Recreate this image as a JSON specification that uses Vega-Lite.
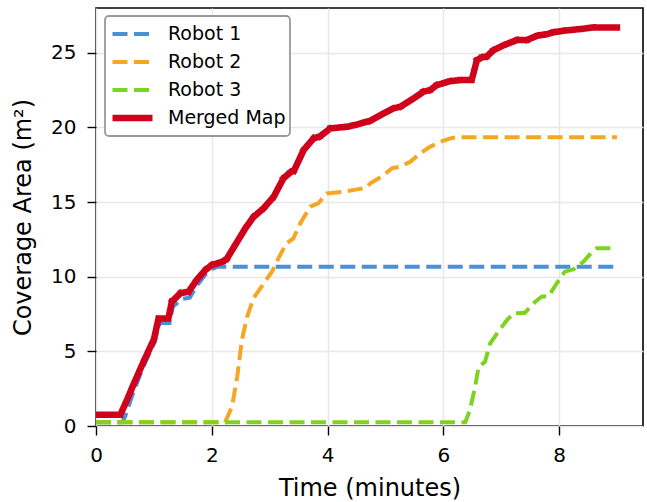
{
  "$schema": "https://vega.github.io/schema/vega-lite/v6.json",
  "width": 547,
  "height": 418,
  "autosize": {"type": "none"},
  "padding": {"left": 96, "top": 8, "right": 4, "bottom": 76},
  "background": "white",
  "config": {
    "font": "DejaVu Sans",
    "view": {"stroke": "#000000", "strokeWidth": 1.6},
    "axis": {
      "domain": false,
      "grid": true,
      "gridColor": "#e8e8e8",
      "gridWidth": 1.5,
      "tickColor": "#000000",
      "tickWidth": 1.4,
      "tickSize": 9,
      "labelFlush": false,
      "labelFont": "DejaVu Sans",
      "labelFontSize": 20,
      "labelColor": "#000000",
      "titleFont": "DejaVu Sans",
      "titleFontSize": 24,
      "titleFontWeight": "normal",
      "titleColor": "#000000"
    },
    "legend": {
      "labelFont": "DejaVu Sans",
      "labelFontSize": 19,
      "labelColor": "#000000",
      "strokeWidth": 1.8
    }
  },
  "data": {
    "values": [
      {"t": 0, "v": 0.25, "s": "Robot 1"},
      {"t": 0.45, "v": 0.25, "s": "Robot 1"},
      {"t": 0.5, "v": 0.6, "s": "Robot 1"},
      {"t": 0.65, "v": 2.3, "s": "Robot 1"},
      {"t": 0.82, "v": 4.0, "s": "Robot 1"},
      {"t": 1.0, "v": 5.5, "s": "Robot 1"},
      {"t": 1.1, "v": 6.9, "s": "Robot 1"},
      {"t": 1.27, "v": 6.9, "s": "Robot 1"},
      {"t": 1.33, "v": 8.0, "s": "Robot 1"},
      {"t": 1.48, "v": 8.5, "s": "Robot 1"},
      {"t": 1.62, "v": 8.6, "s": "Robot 1"},
      {"t": 1.76, "v": 9.5, "s": "Robot 1"},
      {"t": 1.9, "v": 10.2, "s": "Robot 1"},
      {"t": 2.0, "v": 10.5, "s": "Robot 1"},
      {"t": 2.1, "v": 10.67, "s": "Robot 1"},
      {"t": 9.0, "v": 10.67, "s": "Robot 1"},

      {"t": 0, "v": 0.25, "s": "Robot 2"},
      {"t": 2.23, "v": 0.25, "s": "Robot 2"},
      {"t": 2.35, "v": 1.3, "s": "Robot 2"},
      {"t": 2.44, "v": 3.3, "s": "Robot 2"},
      {"t": 2.52, "v": 5.76, "s": "Robot 2"},
      {"t": 2.61, "v": 7.3, "s": "Robot 2"},
      {"t": 2.72, "v": 8.55, "s": "Robot 2"},
      {"t": 2.9, "v": 9.56, "s": "Robot 2"},
      {"t": 3.04, "v": 10.34, "s": "Robot 2"},
      {"t": 3.18, "v": 11.45, "s": "Robot 2"},
      {"t": 3.29, "v": 12.24, "s": "Robot 2"},
      {"t": 3.41, "v": 12.57, "s": "Robot 2"},
      {"t": 3.53, "v": 13.58, "s": "Robot 2"},
      {"t": 3.7, "v": 14.69, "s": "Robot 2"},
      {"t": 3.84, "v": 14.92, "s": "Robot 2"},
      {"t": 3.99, "v": 15.58, "s": "Robot 2"},
      {"t": 4.28, "v": 15.69, "s": "Robot 2"},
      {"t": 4.51, "v": 15.85, "s": "Robot 2"},
      {"t": 4.66, "v": 15.95, "s": "Robot 2"},
      {"t": 4.74, "v": 16.26, "s": "Robot 2"},
      {"t": 4.97, "v": 16.8, "s": "Robot 2"},
      {"t": 5.11, "v": 17.26, "s": "Robot 2"},
      {"t": 5.26, "v": 17.37, "s": "Robot 2"},
      {"t": 5.43, "v": 17.7, "s": "Robot 2"},
      {"t": 5.6, "v": 18.26, "s": "Robot 2"},
      {"t": 5.77, "v": 18.7, "s": "Robot 2"},
      {"t": 5.95, "v": 19.04, "s": "Robot 2"},
      {"t": 6.12, "v": 19.27, "s": "Robot 2"},
      {"t": 6.23, "v": 19.35, "s": "Robot 2"},
      {"t": 9.0, "v": 19.35, "s": "Robot 2"},

      {"t": 0, "v": 0.25, "s": "Robot 3"},
      {"t": 6.38, "v": 0.25, "s": "Robot 3"},
      {"t": 6.46, "v": 1.07, "s": "Robot 3"},
      {"t": 6.55, "v": 2.63, "s": "Robot 3"},
      {"t": 6.61, "v": 3.97, "s": "Robot 3"},
      {"t": 6.72, "v": 4.3, "s": "Robot 3"},
      {"t": 6.81, "v": 5.54, "s": "Robot 3"},
      {"t": 6.95, "v": 6.32, "s": "Robot 3"},
      {"t": 7.1, "v": 7.1, "s": "Robot 3"},
      {"t": 7.21, "v": 7.55, "s": "Robot 3"},
      {"t": 7.41, "v": 7.59, "s": "Robot 3"},
      {"t": 7.59, "v": 8.33, "s": "Robot 3"},
      {"t": 7.7, "v": 8.66, "s": "Robot 3"},
      {"t": 7.82, "v": 8.7, "s": "Robot 3"},
      {"t": 7.96, "v": 9.56, "s": "Robot 3"},
      {"t": 8.1, "v": 10.34, "s": "Robot 3"},
      {"t": 8.25, "v": 10.5, "s": "Robot 3"},
      {"t": 8.42, "v": 11.0, "s": "Robot 3"},
      {"t": 8.57, "v": 11.67, "s": "Robot 3"},
      {"t": 8.65, "v": 11.9, "s": "Robot 3"},
      {"t": 9.0, "v": 11.9, "s": "Robot 3"},

      {"t": 0, "v": 0.75, "s": "Merged Map"},
      {"t": 0.42, "v": 0.75, "s": "Merged Map"},
      {"t": 0.53, "v": 1.7, "s": "Merged Map"},
      {"t": 0.65, "v": 2.8, "s": "Merged Map"},
      {"t": 0.82, "v": 4.3, "s": "Merged Map"},
      {"t": 1.0, "v": 5.8, "s": "Merged Map"},
      {"t": 1.08, "v": 7.2, "s": "Merged Map"},
      {"t": 1.25, "v": 7.2, "s": "Merged Map"},
      {"t": 1.31, "v": 8.33, "s": "Merged Map"},
      {"t": 1.46, "v": 8.9, "s": "Merged Map"},
      {"t": 1.6, "v": 9.0, "s": "Merged Map"},
      {"t": 1.74, "v": 9.78, "s": "Merged Map"},
      {"t": 1.89, "v": 10.45, "s": "Merged Map"},
      {"t": 2.0, "v": 10.78, "s": "Merged Map"},
      {"t": 2.18, "v": 11.0, "s": "Merged Map"},
      {"t": 2.26, "v": 11.2, "s": "Merged Map"},
      {"t": 2.44, "v": 12.35, "s": "Merged Map"},
      {"t": 2.58, "v": 13.24, "s": "Merged Map"},
      {"t": 2.72, "v": 14.0, "s": "Merged Map"},
      {"t": 2.9, "v": 14.6, "s": "Merged Map"},
      {"t": 3.07, "v": 15.36, "s": "Merged Map"},
      {"t": 3.24, "v": 16.6, "s": "Merged Map"},
      {"t": 3.36, "v": 17.0, "s": "Merged Map"},
      {"t": 3.42, "v": 17.1, "s": "Merged Map"},
      {"t": 3.59, "v": 18.5, "s": "Merged Map"},
      {"t": 3.76, "v": 19.27, "s": "Merged Map"},
      {"t": 3.87, "v": 19.4, "s": "Merged Map"},
      {"t": 4.05, "v": 19.94, "s": "Merged Map"},
      {"t": 4.34, "v": 20.05, "s": "Merged Map"},
      {"t": 4.51, "v": 20.2, "s": "Merged Map"},
      {"t": 4.74, "v": 20.45, "s": "Merged Map"},
      {"t": 4.97, "v": 20.94, "s": "Merged Map"},
      {"t": 5.14, "v": 21.28, "s": "Merged Map"},
      {"t": 5.26, "v": 21.39, "s": "Merged Map"},
      {"t": 5.49, "v": 21.95, "s": "Merged Map"},
      {"t": 5.66, "v": 22.4, "s": "Merged Map"},
      {"t": 5.77, "v": 22.5, "s": "Merged Map"},
      {"t": 5.89, "v": 22.84, "s": "Merged Map"},
      {"t": 6.12, "v": 23.1, "s": "Merged Map"},
      {"t": 6.29, "v": 23.17, "s": "Merged Map"},
      {"t": 6.49, "v": 23.17, "s": "Merged Map"},
      {"t": 6.58, "v": 24.5, "s": "Merged Map"},
      {"t": 6.67, "v": 24.7, "s": "Merged Map"},
      {"t": 6.75, "v": 24.75, "s": "Merged Map"},
      {"t": 6.87, "v": 25.18, "s": "Merged Map"},
      {"t": 7.04, "v": 25.5, "s": "Merged Map"},
      {"t": 7.27, "v": 25.85, "s": "Merged Map"},
      {"t": 7.44, "v": 25.85, "s": "Merged Map"},
      {"t": 7.62, "v": 26.14, "s": "Merged Map"},
      {"t": 7.79, "v": 26.25, "s": "Merged Map"},
      {"t": 7.9, "v": 26.37, "s": "Merged Map"},
      {"t": 8.08, "v": 26.48, "s": "Merged Map"},
      {"t": 8.36, "v": 26.59, "s": "Merged Map"},
      {"t": 8.6, "v": 26.7, "s": "Merged Map"},
      {"t": 9.0, "v": 26.7, "s": "Merged Map"}
    ]
  },
  "encoding": {
    "x": {
      "field": "t", "type": "quantitative",
      "scale": {"domain": [0, 9.45], "nice": false, "zero": false},
      "axis": {"values": [0, 2, 4, 6, 8], "title": "Time (minutes)", "labelPadding": 10, "titlePadding": 11, "format": "d"}
    },
    "y": {
      "field": "v", "type": "quantitative",
      "scale": {"domain": [0, 28.0], "nice": false, "zero": false},
      "axis": {"values": [0, 5, 10, 15, 20, 25], "title": "Coverage Area (m²)", "labelPadding": 11, "titlePadding": 15, "format": "d"}
    },
    "color": {
      "field": "s", "type": "nominal",
      "scale": {"domain": ["Robot 1", "Robot 2", "Robot 3", "Merged Map"], "range": ["#4a90d9", "#f5a623", "#7ed321", "#d0021b"]},
      "legend": {
        "title": null, "orient": "none", "legendX": 9, "legendY": 8,
        "symbolType": "stroke", "symbolSize": 1600, "clipHeight": 28,
        "strokeColor": "#999999", "fillColor": "#ffffff", "cornerRadius": 4,
        "padding": 4, "rowPadding": 0, "labelOffset": 12
      }
    },
    "strokeDash": {
      "field": "s", "type": "nominal",
      "scale": {"domain": ["Robot 1", "Robot 2", "Robot 3", "Merged Map"], "range": [[15, 6.5], [15, 6.5], [15, 6.5], [1, 0]]},
      "legend": {"title": null}
    },
    "strokeWidth": {
      "field": "s", "type": "ordinal",
      "scale": {"type": "ordinal", "domain": ["Robot 1", "Robot 2", "Robot 3", "Merged Map"], "range": [4, 4, 4, 6.5]},
      "legend": {"title": null}
    }
  },
  "layer": [
    {"transform": [{"filter": "datum.s === 'Robot 1'"}], "mark": {"type": "line", "clip": true}},
    {"transform": [{"filter": "datum.s === 'Robot 2'"}], "mark": {"type": "line", "clip": true}},
    {"transform": [{"filter": "datum.s === 'Robot 3'"}], "mark": {"type": "line", "clip": true}},
    {"transform": [{"filter": "datum.s === 'Merged Map'"}], "mark": {"type": "line", "clip": true, "strokeCap": "square"}}
  ]
}
